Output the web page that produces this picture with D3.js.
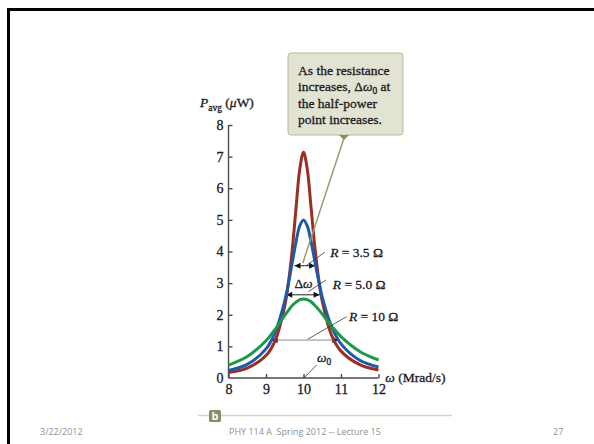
<!DOCTYPE html>
<html>
<head>
<meta charset="utf-8">
<script src="https://cdn.jsdelivr.net/npm/d3@7/dist/d3.min.js"></script>
<style>
  html, body { margin: 0; padding: 0; background: #fff; }
  svg { display: block; }
  .serif { font-family: "Liberation Serif", "DejaVu Serif", serif; fill: #1a1a1a; stroke: #1a1a1a; stroke-width: 0.3px; }
  .foot { font-family: "Open Sans", "Liberation Sans", sans-serif; fill: #8f8f8f; white-space: pre; }
</style>
</head>
<body>
<script>
// angular frequency samples (Mrad/s)
var omega = [8, 8.5, 9, 9.25, 9.5, 9.6, 9.7, 9.8, 9.9, 10, 10.1, 10.2, 10.3, 10.4, 10.5, 10.75, 11, 11.5, 12];
// average power (uW)
var pR35 = [0.17, 0.31, 0.71, 1.2, 2.27, 3.03, 4.06, 5.36, 6.6, 7.14, 6.61, 5.41, 4.17, 3.17, 2.43, 1.35, 0.85, 0.42, 0.25];
var pR50 = [0.24, 0.43, 0.92, 1.46, 2.44, 3.0, 3.65, 4.3, 4.81, 5.0, 4.81, 4.32, 3.71, 3.1, 2.56, 1.62, 1.08, 0.56, 0.35];
var pR10 = [0.41, 0.68, 1.18, 1.55, 1.98, 2.14, 2.29, 2.4, 2.48, 2.5, 2.48, 2.41, 2.3, 2.17, 2.02, 1.64, 1.31, 0.84, 0.57];
var seriesNames = ["R = 3.5 Ω", "R = 5.0 Ω", "R = 10 Ω"];
var seriesColors = ["#9a2f24", "#1d5aa8", "#1c9a4a"];
// half-power width markers: level, left and right omega
var halfLevel = [3.55, 2.63, 1.2];
var halfLo = [9.76, 9.54, 9.15];
var halfHi = [10.31, 10.43, 10.93];
var xTicks = [8, 9, 10, 11, 12];
var yTicks = [0, 1, 2, 3, 4, 5, 6, 7, 8];
var calloutLines = ["As the resistance", "increases, Δω0 at", "the half-power", "point increases."];

var W = 594, H = 444;
var svg = d3.select("body").append("svg")
  .attr("width", W).attr("height", H)
  .attr("xmlns", "http://www.w3.org/2000/svg");

svg.append("rect").attr("width", W).attr("height", H).attr("fill", "#fff");

// slide frame (only top and left show)
svg.append("path")
  .attr("d", "M8.5," + (H + 5) + "V9.5H" + (W + 5))
  .attr("fill", "none").attr("stroke", "#000").attr("stroke-width", 3);

var x = d3.scaleLinear().domain([8, 12]).range([228.5, 378.5]);
var y = d3.scaleLinear().domain([0, 8]).range([378, 125]);

var defs = svg.append("defs");
defs.append("marker")
  .attr("id", "ah").attr("viewBox", "0 0 10 10")
  .attr("refX", 10).attr("refY", 5)
  .attr("markerWidth", 7).attr("markerHeight", 6)
  .attr("markerUnits", "userSpaceOnUse")
  .attr("orient", "auto-start-reverse")
  .append("path").attr("d", "M0,0L10,5L0,10z").attr("fill", "#111");

/* axes */
var yAxis = d3.axisLeft(y).tickValues(yTicks).tickFormat(d3.format("d"))
  .tickSizeInner(-4).tickSizeOuter(0).tickPadding(5);
var xAxis = d3.axisBottom(x).tickValues(xTicks).tickFormat(d3.format("d"))
  .tickSizeInner(-4).tickSizeOuter(0).tickPadding(6);

var gy = svg.append("g").attr("transform", "translate(" + x(8) + ",0)").call(yAxis);
var gx = svg.append("g").attr("transform", "translate(0," + y(0) + ")").call(xAxis);
[gx, gy].forEach(function(g) {
  g.attr("font-family", null).attr("font-size", null);
  g.selectAll("path, line").attr("stroke", "#4a4a4a").attr("stroke-width", 1.4);
  g.selectAll("text").attr("class", "serif").attr("font-size", 14).attr("fill", "#1a1a1a");
});
gx.select(".domain").attr("d", "M" + x(8) + ",0H" + x(12));
gy.select(".domain").attr("d", "M0," + y(0) + "V" + y(8));
// the y tick at 0 sits on the x axis
gy.selectAll(".tick").filter(function(d) { return d === 0; }).select("line").remove();

/* axis titles */
var yt = svg.append("text").attr("class", "serif").attr("x", 200).attr("y", 107).attr("font-size", 13.5);
yt.append("tspan").attr("font-style", "italic").text("P");
yt.append("tspan").attr("font-size", 9.5).attr("dy", 3.5).text("avg");
yt.append("tspan").attr("dy", -3.5).text(" (");
yt.append("tspan").attr("font-style", "italic").text("μ");
yt.append("tspan").text("W)");

var xt = svg.append("text").attr("class", "serif").attr("x", x(12.18)).attr("y", y(-0.14)).attr("font-size", 13.5);
xt.append("tspan").attr("font-style", "italic").text("ω");
xt.append("tspan").text(" (Mrad/s)");

/* half-power markers (behind curves) */
var marks = svg.append("g");
halfLevel.forEach(function(p, i) {
  var mid = x((halfLo[i] + halfHi[i]) / 2);
  [halfLo[i], halfHi[i]].forEach(function(end) {
    marks.append("line")
      .attr("x1", mid).attr("x2", x(end))
      .attr("y1", y(p)).attr("y2", y(p))
      .attr("stroke", i === 2 ? "#8a8a8a" : "#222").attr("stroke-width", 1)
      .attr("marker-end", "url(#ah)");
  });
});

/* curves */
var line = d3.line()
  .x(function(d) { return x(d[0]); })
  .y(function(d) { return y(d[1]); })
  .curve(d3.curveCatmullRom.alpha(0.5));

[pR35, pR50, pR10].forEach(function(vals, i) {
  svg.append("path")
    .datum(omega.map(function(w, j) { return [w, vals[j]]; }))
    .attr("d", line)
    .attr("fill", "none")
    .attr("stroke", seriesColors[i])
    .attr("stroke-width", 3)
    .attr("stroke-linejoin", "round");
});

/* series labels with leader lines */
var labelPos = [[10.71, 3.84], [10.78, 2.83], [11.21, 1.8]];
var leaders = [
  [[10.57, 3.98], [10.09, 3.57]],
  [[10.6, 3.1], [10.13, 2.73]],
  [[11.15, 1.94], [10.12, 1.23]],
  [[10.35, 0.41], [10.01, 0]]
];
leaders.forEach(function(l) {
  svg.append("line")
    .attr("x1", x(l[0][0])).attr("y1", y(l[0][1]))
    .attr("x2", x(l[1][0])).attr("y2", y(l[1][1]))
    .attr("stroke", "#333").attr("stroke-width", 0.8);
});
seriesNames.forEach(function(name, i) {
  var t = svg.append("text").attr("class", "serif").attr("font-size", 13.5)
    .attr("x", x(labelPos[i][0])).attr("y", y(labelPos[i][1]));
  t.append("tspan").attr("font-style", "italic").text(name.slice(0, 1));
  t.append("tspan").text(name.slice(1));
});

var dw = svg.append("text").attr("class", "serif").attr("font-size", 13.5)
  .attr("text-anchor", "middle").attr("x", x(10.0)).attr("y", y(2.85));
dw.append("tspan").text("Δ");
dw.append("tspan").attr("font-style", "italic").text("ω");

var w0 = svg.append("text").attr("class", "serif").attr("font-size", 13.5)
  .attr("x", x(10.36)).attr("y", y(0.5));
w0.append("tspan").attr("font-style", "italic").text("ω");
w0.append("tspan").attr("font-size", 9.5).attr("dy", 3).text("0");

/* callout */
var cb = { x: 288, y: 53, w: 115, h: 82, tip: 344 };
svg.append("line")
  .attr("x1", cb.tip).attr("y1", cb.y + cb.h + 3)
  .attr("x2", x(9.98)).attr("y2", y(3.63))
  .attr("stroke", "#9c9a72").attr("stroke-width", 1.5);
svg.append("rect")
  .attr("x", cb.x).attr("y", cb.y).attr("width", cb.w).attr("height", cb.h)
  .attr("rx", 3)
  .attr("fill", "#e3e3d4").attr("stroke", "#b8b79c").attr("stroke-width", 1);
svg.append("path")
  .attr("d", "M" + (cb.tip - 5) + "," + (cb.y + cb.h) + "L" + (cb.tip + 5) + "," + (cb.y + cb.h) + "L" + cb.tip + "," + (cb.y + cb.h + 5) + "Z")
  .attr("fill", "#8e8b62");

calloutLines.forEach(function(s, i) {
  var t = svg.append("text").attr("class", "serif").attr("font-size", 13.5)
    .attr("x", cb.x + 10).attr("y", cb.y + 21.5 + i * 16.5);
  if (s.indexOf("Δω0") >= 0) {
    var parts = s.split("Δω0");
    t.append("tspan").text(parts[0] + "Δ");
    t.append("tspan").attr("font-style", "italic").text("ω");
    t.append("tspan").attr("font-size", 9.5).attr("dy", 3).text("0");
    t.append("tspan").attr("dy", -3).text(parts[1]);
  } else {
    t.text(s);
  }
});

/* figure tag "b" */
svg.append("line").attr("x1", 198).attr("x2", 452).attr("y1", 415.5).attr("y2", 415.5)
  .attr("stroke", "#d6d4bd").attr("stroke-width", 1.5);
svg.append("rect").attr("x", 209).attr("y", 410).attr("width", 12).attr("height", 12).attr("rx", 1.5)
  .attr("fill", "#8e8b62");
svg.append("text").attr("x", 215).attr("y", 420).attr("text-anchor", "middle")
  .attr("font-family", "'Open Sans', 'Liberation Sans', sans-serif").attr("font-weight", "bold")
  .attr("font-size", 11).attr("fill", "#fff").text("b");

/* slide footer */
svg.append("text").attr("class", "foot").attr("font-size", 9).attr("x", 40).attr("y", 435).text("3/22/2012");
svg.append("text").attr("class", "foot").attr("font-size", 9).attr("x", 229).attr("y", 435).text("PHY 114 A  Spring 2012 -- Lecture 15");
svg.append("text").attr("class", "foot").attr("font-size", 9).attr("x", 553).attr("y", 435).text("27");
</script>
</body>
</html>
